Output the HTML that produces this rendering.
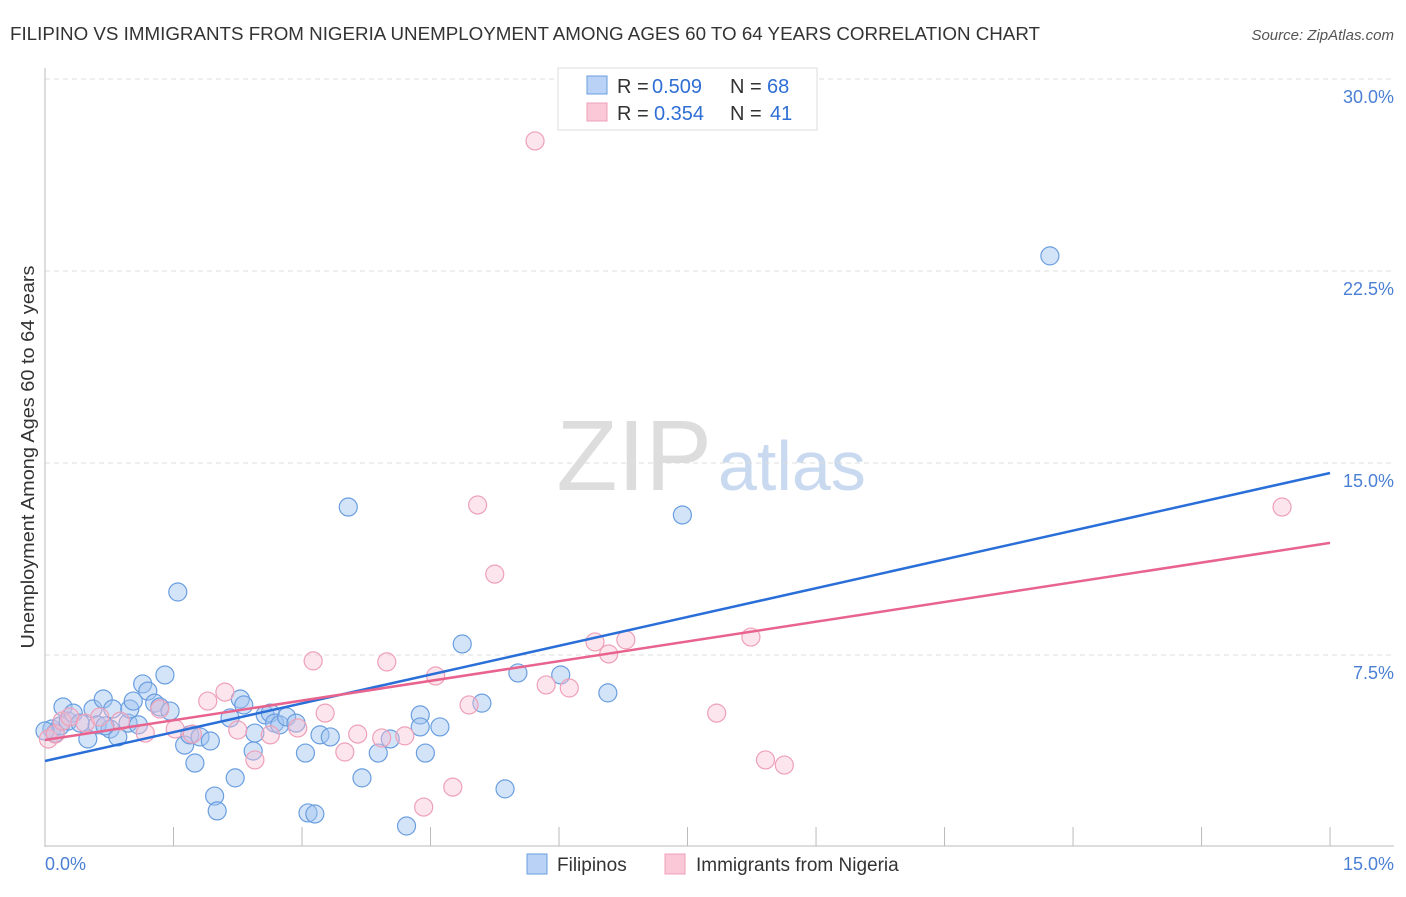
<!DOCTYPE html>
<html><head><meta charset="utf-8"><style>
body{margin:0;background:#fff;font-family:"Liberation Sans",sans-serif}
svg text{font-family:"Liberation Sans",sans-serif}
</style></head><body>
<svg id="chart" width="1406" height="892">
<text x="10" y="40" font-size="18" fill="#333" textLength="1030" lengthAdjust="spacingAndGlyphs">FILIPINO VS IMMIGRANTS FROM NIGERIA UNEMPLOYMENT AMONG AGES 60 TO 64 YEARS CORRELATION CHART</text>
<text x="1394" y="40" font-size="15" fill="#555" font-style="italic" text-anchor="end">Source: ZipAtlas.com</text>
<text x="712" y="490" font-size="100" fill="#ddd" font-family="Liberation Serif" text-anchor="end">ZIP</text>
<text x="718" y="490" font-size="70" fill="#c8d9f0">atlas</text>
<g id="grid"></g><g id="axes"></g><g id="pts"></g><g id="lines"></g>
<text transform="translate(34,457) rotate(-90)" font-size="18" fill="#333" text-anchor="middle" textLength="383" lengthAdjust="spacingAndGlyphs">Unemployment Among Ages 60 to 64 years</text>
<text x="45" y="870" font-size="18" fill="#4a7fd4">0.0%</text>
<text x="1394" y="870" font-size="18" fill="#4a7fd4" text-anchor="end">15.0%</text>
<g>
<rect x="558" y="68" width="259" height="62" fill="#fff" stroke="#ddd"/>
<rect x="587" y="76" width="20" height="18" fill="#b9d2f5" stroke="#6a9ee0"/>
<rect x="587" y="103" width="20" height="18" fill="#fbc8d8" stroke="#eea0b8"/>
<text x="617" y="93" font-size="20" fill="#333">R =</text>
<text x="652" y="93" font-size="20" fill="#2f6fd4">0.509</text>
<text x="730" y="93" font-size="20" fill="#333">N =</text>
<text x="767" y="93" font-size="20" fill="#2f6fd4">68</text>
<text x="617" y="120" font-size="20" fill="#333">R =</text>
<text x="654" y="120" font-size="20" fill="#2f6fd4">0.354</text>
<text x="730" y="120" font-size="20" fill="#333">N =</text>
<text x="770" y="120" font-size="20" fill="#2f6fd4">41</text>
</g>
<g>
<rect x="527" y="854" width="20" height="20" fill="#b9d2f5" stroke="#6a9ee0"/>
<text x="557" y="871" font-size="19" fill="#333">Filipinos</text>
<rect x="665" y="854" width="20" height="20" fill="#fbc8d8" stroke="#eea0b8"/>
<text x="696" y="871" font-size="19" fill="#333">Immigrants from Nigeria</text>
</g>
</svg>
<script>
const yTicks=[7.5,15,22.5,30];
const yTickLabels=["7.5%","15.0%","22.5%","30.0%"];
const xTicks=[0,1.5,3,4.5,6,7.5,9,10.5,12,13.5,15];
const blueX=[0.08,0.12,0.18,0.21,0.27,0.33,0.41,0.5,0.56,0.61,0.68,0.76,0.79,0.85,0.97,0.99,1.03,1.09,1.14,1.2,1.28,1.34,1.4,1.46,1.55,1.63,1.69,1.75,1.81,1.93,1.98,2.01,2.22,2.16,2.28,2.32,2.45,2.43,2.57,2.63,2.68,2.74,2.82,2.93,3.04,3.07,3.15,3.21,3.33,3.54,3.7,3.89,4.03,4.22,4.38,4.38,4.44,4.61,4.87,5.1,5.37,5.52,6.02,6.57,7.44,11.73,0.0,0.7];
const blueY=[4.61,4.45,4.73,5.47,4.92,5.23,4.84,4.22,5.39,4.77,5.78,4.61,5.39,4.3,4.84,5.39,5.7,4.77,6.37,6.09,5.62,5.47,6.72,5.31,9.96,3.98,4.38,3.28,4.3,4.14,1.99,1.41,2.7,5.04,5.78,5.55,4.45,3.75,5.16,5.23,4.84,4.77,5.08,4.84,3.67,1.33,1.29,4.38,4.3,13.28,2.7,3.67,4.22,0.82,5.16,4.69,3.67,4.69,7.93,5.62,2.27,6.8,6.72,6.02,12.97,23.09,4.53,4.73];
const pinkX=[0.04,0.12,0.2,0.29,0.47,0.64,0.88,1.17,1.34,1.52,1.72,1.9,2.1,2.25,2.45,2.63,2.95,3.13,3.27,3.5,3.65,3.93,3.99,4.2,4.42,4.56,4.76,4.95,5.05,5.25,5.72,5.85,6.12,6.42,6.58,6.78,7.84,8.24,8.41,8.63,14.44];
const pinkY=[4.22,4.41,4.92,5.08,4.84,5.08,4.92,4.45,5.39,4.61,4.41,5.7,6.05,4.57,3.40,4.38,4.65,7.27,5.23,3.71,4.41,4.26,7.23,4.34,1.56,6.68,2.34,5.55,13.36,10.66,27.58,6.33,6.21,8.01,7.54,8.09,5.23,8.2,3.4,3.2,13.28];
const blueTrend=[3.36,14.61];
const pinkTrend=[4.18,11.88];
const X=v=>45+v*85.67, Y=v=>847-v*25.6;
const NS="http://www.w3.org/2000/svg";
function mk(tag,attrs,parent){const e=document.createElementNS(NS,tag);for(const k in attrs)e.setAttribute(k,attrs[k]);document.getElementById(parent).appendChild(e);return e;}
yTicks.forEach((t,i)=>{
 const l=mk('line',{x1:45,x2:1394,y1:Y(t),y2:Y(t),stroke:'#ddd','stroke-dasharray':'5,4'},'grid');
 
 
 const tx=mk('text',{x:1394,y:Y(t)+24,'font-size':18,fill:'#4a7fd4','text-anchor':'end'},'grid');
 tx.textContent=yTickLabels[i];
 
 
});
const ax=mk('line',{x1:45,x2:45,y1:68,y2:847,stroke:'#bbb'},'axes');


const bx=mk('line',{x1:45,x2:1394,y1:846,y2:846,stroke:'#bbb'},'axes');


xTicks.forEach(t=>{
 const l=mk('line',{x1:X(t),x2:X(t),y1:827,y2:846,stroke:'#bbb'},'axes');
 
 
});
blueX.forEach((v,i)=>{
 const c=mk('circle',{cx:X(v),cy:Y(blueY[i]),r:9,fill:'rgba(160,195,240,0.45)',stroke:'#6a9ee0','stroke-width':1.2},'pts');
 
 
});
pinkX.forEach((v,i)=>{
 const c=mk('circle',{cx:X(v),cy:Y(pinkY[i]),r:9,fill:'rgba(248,190,210,0.4)',stroke:'#eea0b8','stroke-width':1.2},'pts');
 
 
});
const bl=mk('line',{x1:X(0),x2:X(15),y1:Y(blueTrend[0]),y2:Y(blueTrend[1]),stroke:'#2a6fd8','stroke-width':2.5},'lines');


const pl=mk('line',{x1:X(0),x2:X(15),y1:Y(pinkTrend[0]),y2:Y(pinkTrend[1]),stroke:'#e8638e','stroke-width':2.5},'lines');


</script>
</body></html>
